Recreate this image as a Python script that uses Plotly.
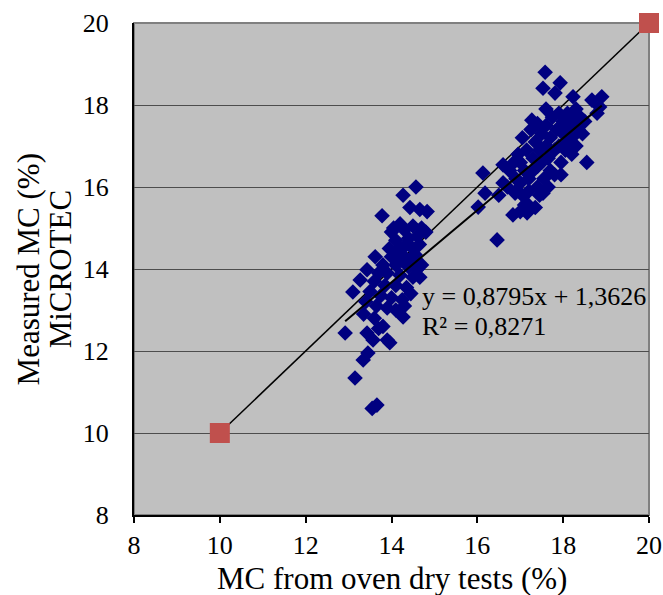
import plotly.graph_objects as go

# Lower cluster (MC oven dry, MiCROTEC)
low_x = [14.57,14.27,14.43,14.66,14.83,13.78,14.2,14.5,14.7,14.0,14.3,14.1,14.4,14.6,14.8,
         13.95,14.2,14.45,14.65,14.0,14.3,14.55,13.62,13.8,14.1,14.4,14.7,13.43,13.9,14.2,14.5,14.66,
         13.27,13.6,13.85,14.1,14.35,13.1,13.5,13.75,14.0,14.25,14.45,13.4,13.65,13.9,14.1,14.3,14.27,
         13.35,13.6,12.92,13.43,13.57,13.9,13.96,13.7,13.8,13.34,13.45,13.15,13.66,13.55,
         14.15,14.35,14.05,14.25,13.7,14.5,14.6]
low_y = [16.0,15.8,15.5,15.45,15.4,15.3,15.1,15.05,15.0,14.9,14.95,14.7,14.75,14.8,14.9,
         14.5,14.5,14.55,14.6,14.3,14.3,14.35,14.3,14.1,14.1,14.05,14.1,13.98,13.9,13.85,13.8,13.8,
         13.73,13.7,13.6,13.6,13.55,13.44,13.45,13.35,13.3,13.25,13.4,13.2,13.1,13.05,13.0,13.1,12.83,
         12.9,12.8,12.44,12.44,12.27,12.27,12.2,12.55,12.6,11.78,11.95,11.34,10.68,10.6,
         14.4,14.6,15.0,14.2,13.9,14.2,14.0]

# Upper cluster
up_x = [17.58,17.53,17.93,17.81,18.23,18.67,18.9,18.79,18.85,17.27,16.13,16.6,18.55,16.18,16.02,
        16.83,17.16,16.46,17.53,16.88,17.1,17.35,
        16.7,16.75,16.9,16.9,17.0,17.0,17.05,17.1,17.15,17.2,17.2,17.3,17.3,17.35,17.4,17.4,17.45,
        17.5,17.5,17.55,17.6,17.6,17.65,17.7,17.7,17.75,17.8,17.8,17.85,17.9,17.9,17.95,18.0,18.0,
        18.05,18.1,18.1,18.15,18.2,18.25,18.3,18.35,18.4,18.45,17.25,17.05,16.95,16.85,17.15,17.45,
        17.65,17.95,18.2,16.6,16.5,17.0,17.6,17.4,18.3,18.5]
up_y = [18.8,18.41,18.54,18.29,18.2,18.12,18.2,17.8,17.95,17.63,16.34,16.54,16.6,15.85,15.51,
        15.32,15.37,14.71,15.85,15.85,15.56,15.5,
        16.0,16.4,16.2,15.9,16.6,16.1,15.8,16.4,16.9,16.2,15.9,16.7,16.4,17.1,16.0,16.5,16.9,
        17.3,16.6,16.2,17.0,17.5,16.7,16.4,17.2,17.7,16.9,16.3,17.4,17.0,17.8,16.6,17.3,17.6,
        16.9,17.1,17.8,17.45,17.2,17.65,17.0,17.4,17.7,17.3,17.4,17.2,16.8,16.6,15.6,15.8,
        16.0,16.3,16.8,16.1,15.8,15.4,17.9,17.55,17.9,17.6]

meas_x = low_x + up_x
meas_y = low_y + up_y

ref_x = [10, 20]
ref_y = [10, 20]

slope = 0.8795
intercept = 1.3626
trend_x = [min(meas_x), max(meas_x)]
trend_y = [slope * v + intercept for v in trend_x]

ticks = [8, 10, 12, 14, 16, 18, 20]
x_title = "MC from oven dry tests (%)"
y_title_lines = ["Measured MC (%)", "MiCROTEC"]

font_family = "Liberation Serif, Times New Roman, DejaVu Serif, serif"

fig = go.Figure()
fig.add_trace(go.Scatter(x=ref_x, y=ref_y, mode="lines",
                         line=dict(color="black", width=1.5), hoverinfo="skip"))
fig.add_trace(go.Scatter(x=meas_x, y=meas_y, mode="markers",
                         marker=dict(symbol="diamond", size=12, color="#000080",
                                     line=dict(width=0))))
fig.add_trace(go.Scatter(x=trend_x, y=trend_y, mode="lines",
                         line=dict(color="black", width=2)))
fig.add_trace(go.Scatter(x=ref_x, y=ref_y, mode="markers", cliponaxis=False,
                         marker=dict(symbol="square", size=20, color="#C0504D",
                                     line=dict(width=0))))

fig.add_annotation(x=14.66, y=13.34, xref="x", yref="y", text="y = 0,8795x + 1,3626",
                   showarrow=False, xanchor="left", yanchor="middle",
                   font=dict(family=font_family, size=26, color="black"))
fig.add_annotation(x=14.66, y=12.59, xref="x", yref="y", text="R² = 0,8271",
                   showarrow=False, xanchor="left", yanchor="middle",
                   font=dict(family=font_family, size=26, color="black"))

# axis titles
fig.add_annotation(x=0.5, y=-0.13, xref="paper", yref="paper", text=x_title,
                   showarrow=False, xanchor="center", yanchor="middle",
                   font=dict(family=font_family, size=31, color="black"))
fig.add_annotation(x=-0.205, y=0.5, xref="paper", yref="paper", text=y_title_lines[0],
                   showarrow=False, xanchor="center", yanchor="middle", textangle=-90,
                   font=dict(family=font_family, size=31, color="black"))
fig.add_annotation(x=-0.143, y=0.5, xref="paper", yref="paper", text=y_title_lines[1],
                   showarrow=False, xanchor="center", yanchor="middle", textangle=-90,
                   font=dict(family=font_family, size=31, color="black"))

fig.add_shape(type="rect", xref="paper", yref="paper", x0=0, y0=0, x1=1, y1=1,
              line=dict(color="#808080", width=2), layer="below")

tick_font = dict(family=font_family, size=26, color="black")

fig.update_layout(
    width=663, height=595,
    margin=dict(l=134, r=14, t=23, b=80, autoexpand=False),
    paper_bgcolor="white", plot_bgcolor="#C0C0C0",
    showlegend=False,
    font=dict(family=font_family, size=26, color="black"),
    xaxis=dict(range=[8, 20], tickvals=ticks, showgrid=False,
               zeroline=False, showline=True, linecolor="black", linewidth=2,
               ticks="outside", ticklen=6, tickcolor="black", tickwidth=1.5,
               tickfont=tick_font, automargin=False),
    yaxis=dict(range=[8, 20], tickvals=ticks, showgrid=True,
               gridcolor="#4d4d4d", gridwidth=1, zeroline=False, showline=True,
               linecolor="black", linewidth=2, ticks="outside", ticklen=10,
               tickcolor="rgba(0,0,0,0)", ticklabelstandoff=8,
               tickfont=tick_font, automargin=False),
)

fig.write_html("out.html")
